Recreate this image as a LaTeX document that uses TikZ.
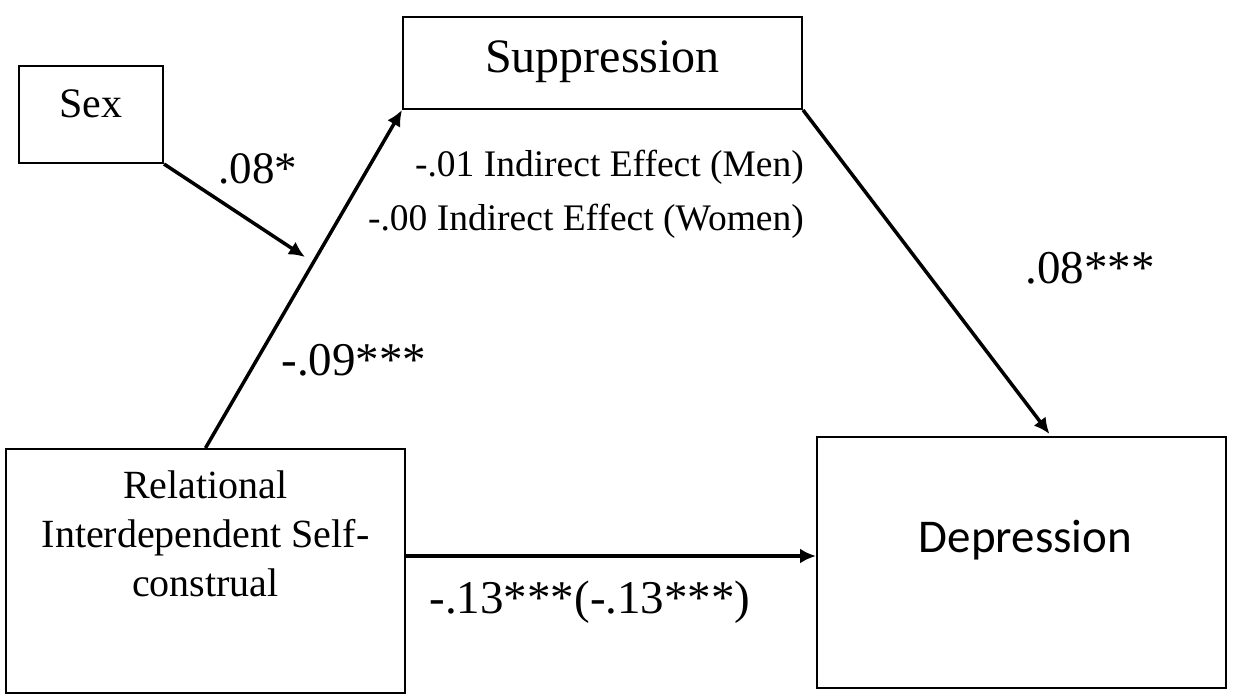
\documentclass[tikz,border=0pt]{standalone}
\usepackage{fontspec}
\setmainfont{Liberation Serif}
\newfontfamily\calibri{Carlito}
\usetikzlibrary{arrows.meta}

\begin{document}
\begin{tikzpicture}[x=1pt, y=-1pt, >={Latex[length=16pt,width=15pt]},
    box/.style={draw, line width=2pt, inner sep=0pt},
    arr/.style={->, line width=3.5pt},
    coef/.style={inner sep=0pt, font=\fontsize{47}{56}\selectfont}]

    \useasboundingbox (0,0) rectangle (1233,697);

    % the four boxes
    \node[box, minimum width=144pt, minimum height=97pt] (sex) at (91,114.5) {};
    \node[box, minimum width=399pt, minimum height=92pt] (supp) at (602.5,63) {};
    \node[box, minimum width=399pt, minimum height=244pt] (rel) at (205.5,571) {};
    \node[box, minimum width=409pt, minimum height=251pt] (dep) at (1021.5,562.5) {};

    \node[inner sep=0pt, anchor=base, font=\fontsize{42}{50}\selectfont] (sext) at ([yshift=-52pt]sex.north) {Sex};
    \node[inner sep=0pt, anchor=base, font=\fontsize{48}{58}\selectfont] (suppt) at ([yshift=-56pt]supp.north) {Suppression};
    \node[inner sep=0pt, anchor=north, align=center, font=\fontsize{40}{49}\selectfont] (relt) at ([yshift=-23pt]rel.north) {Relational\\Interdependent Self-\\construal};
    \node[inner sep=0pt, anchor=base, font=\calibri\fontsize{47}{56}\selectfont] (dept) at ([yshift=-116pt,xshift=4pt]dep.north) {Depression};

    % paths
    \coordinate (hit) at (305,257);
    \draw[arr] (sex.south east) -- (hit);
    \draw[arr] (rel.north) -- (supp.south west);
    \draw[arr] (supp.south east) -- ([xshift=28pt,yshift=2pt]dep.north);
    \draw[arr] ([yshift=15pt]rel.east) -- ([yshift=15pt]rel.east -| dep.west);

    % coefficients
    \node[coef, anchor=base, font=\fontsize{45}{54}\selectfont] (asex) at (258,183) {.08*};
    \node[coef, anchor=base] (arel) at (354,375) {-.09***};
    \node[coef, anchor=base] (bdep) at (1090,283) {.08***};
    \node[coef, anchor=base] (cdir) at (590,613) {-.13***(-.13***)};
    \node[inner sep=0pt, anchor=north east, align=right, font=\fontsize{37.5}{54}\selectfont] (ind) at (804,150) {-.01 Indirect Effect (Men)\\-.00 Indirect Effect (Women)};

\end{tikzpicture}
\end{document}
